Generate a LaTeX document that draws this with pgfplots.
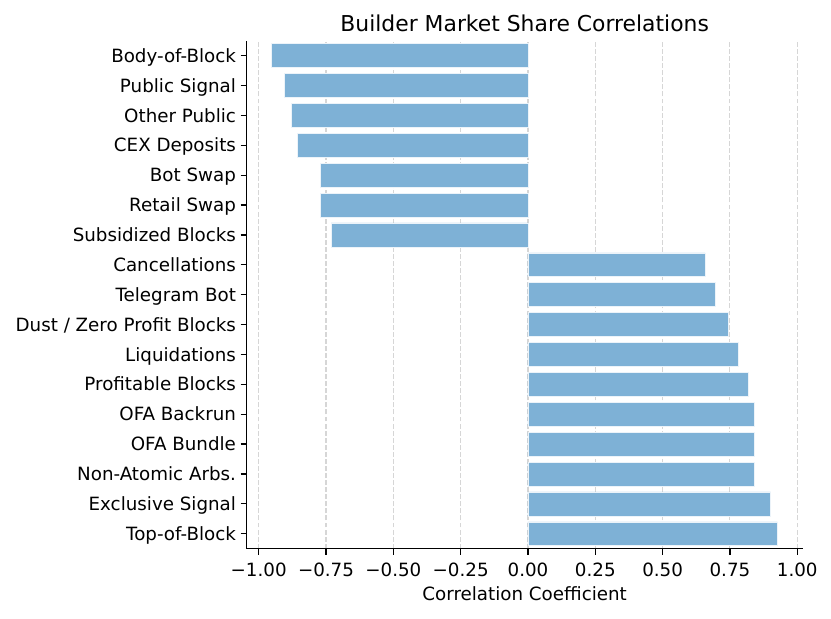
\documentclass[border=0pt]{standalone}
\usepackage{pgfplots}
\pgfplotsset{compat=1.18}
\usepackage{fontspec}
\setmainfont{DejaVu Sans}
\definecolor{barblue}{RGB}{126,177,214}
\begin{document}
\begin{tikzpicture}
\useasboundingbox (-185pt,-52pt) rectangle (438.25pt,411.5pt);
\begin{axis}[
  at={(0,0)}, anchor=south west,
  scale only axis,
  width=417pt, height=381pt,
  xmin=-1.0446, xmax=1.020,
  ymin=-0.5, ymax=16.5,
  axis x line*=bottom, axis y line*=left,
  axis line style={line width=0.9pt},
  tick align=outside,
  major tick length=4.5pt,
  tick style={black, line width=0.9pt},
  xtick={-1,-0.75,-0.5,-0.25,0,0.25,0.5,0.75,1},
  xticklabels={−1.00,−0.75,−0.50,−0.25,0.00,0.25,0.50,0.75,1.00},
  ytick={0,...,16},
  yticklabels={Top-of-Block,Exclusive Signal,Non-Atomic Arbs.,OFA Bundle,OFA Backrun,Profitable Blocks,Liquidations,Dust / Zero Profit Blocks,Telegram Bot,Cancellations,Subsidized Blocks,Retail Swap,Bot Swap,CEX Deposits,Other Public,Public Signal,Body-of-Block},
  ticklabel style={font=\fontsize{13.7}{16}\selectfont},
  xticklabel style={yshift=-2.5pt},
  yticklabel style={anchor=base east, yshift=-5pt},
  xmajorgrids,
  grid style={dash pattern=on 3.7pt off 1.6pt, color=black!16, line width=0.8pt},
  xlabel={Correlation Coefficient},
  xlabel style={font=\fontsize{13.7}{16}\selectfont, yshift=-1pt},
  title={Builder Market Share Correlations},
  title style={font=\fontsize{16.4}{19}\selectfont, yshift=-3pt},
  xbar, bar width=0.8,
]
\addplot[fill=barblue, draw=white!85!barblue, line width=0.4pt] coordinates {
(0.926,0) (0.901,1) (0.842,2) (0.839,3) (0.839,4) (0.817,5) (0.780,6) (0.745,7) (0.695,8) (0.658,9)
(-0.731,10) (-0.771,11) (-0.771,12) (-0.856,13) (-0.879,14) (-0.904,15) (-0.952,16)
};
\end{axis}
\end{tikzpicture}
\end{document}
